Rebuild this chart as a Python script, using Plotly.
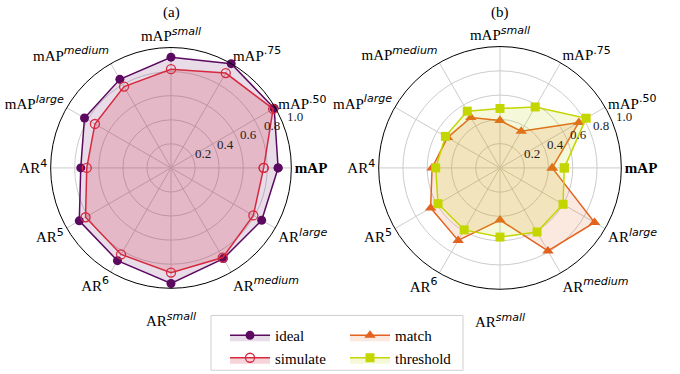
import math
import plotly.graph_objects as go

SANS = "DejaVu Sans"
SERIF = "Liberation Serif"

def sup(s, italic=False):
    inner = f"<i>{s}</i>" if italic else s
    return f"<sup><span style='font-family:{SANS};font-size:11px'>{inner}</span></sup>"

categories = [
    "<b>mAP</b>",
    "mAP" + sup(".50"),
    "mAP" + sup(".75"),
    "mAP" + sup("small", True),
    "mAP" + sup("medium", True),
    "mAP" + sup("large", True),
    "AR" + sup("4"),
    "AR" + sup("5"),
    "AR" + sup("6"),
    "<br>AR" + sup("small", True),
    "AR" + sup("medium", True),
    "AR" + sup("large", True),
]

ideal = [0.89, 0.99, 1.00, 0.92, 0.85, 0.83, 0.75, 0.88, 0.89, 0.96, 0.87, 0.87]
simulate = [0.77, 0.98, 0.91, 0.82, 0.78, 0.73, 0.70, 0.82, 0.83, 0.87, 0.86, 0.79]
match = [0.43, 0.75, 0.35, 0.39, 0.48, 0.50, 0.56, 0.66, 0.69, 0.43, 0.79, 0.90]
threshold = [0.53, 0.82, 0.58, 0.49, 0.54, 0.52, 0.53, 0.59, 0.59, 0.57, 0.61, 0.60]

radial_ticks = [0.2, 0.4, 0.6, 0.8, 1.0]
radial_max = 1.0
label_angle = 22.5

def closed(v):
    return list(v) + [v[0]]

theta = closed(categories)

fig = go.Figure()

series = [
    ("ideal", ideal, "polar", "#5c0a60", "rgba(100,20,100,0.15)",
     dict(symbol="circle", size=9, color="#5c0a60"), "legend", 1),
    ("simulate", simulate, "polar", "#d6293f", "rgba(214,41,63,0.2)",
     dict(symbol="circle-open", size=9, color="#d6293f", line=dict(width=1.3)), "legend", 2),
    ("match", match, "polar2", "#e4621f", "rgba(228,98,31,0.15)",
     dict(symbol="triangle-up", size=10, color="#e4621f"), "legend2", 3),
    ("threshold", threshold, "polar2", "#c4d600", "rgba(196,214,0,0.15)",
     dict(symbol="square", size=9, color="#c4d600"), "legend2", 4),
]

for name, vals, sub, col, fillc, mk, leg, rank in series:
    fig.add_trace(go.Scatterpolar(
        r=closed(vals), theta=theta, subplot=sub, name=name,
        mode="lines+markers", fill="toself", fillcolor=fillc,
        line=dict(color=col, width=1.5), marker=mk,
        legend=leg, legendrank=rank,
    ))

W, H = 680, 374
panels = [("polar", 171, 173, 124, "(a)"), ("polar2", 500, 173, 125, "(b)")]

def polar_layout(cx, cy, rad):
    return dict(
        domain=dict(x=[(cx - rad) / W, (cx + rad) / W],
                    y=[(H - cy - rad) / H, (H - cy + rad) / H]),
        bgcolor="white",
        radialaxis=dict(range=[0, radial_max], tickvals=radial_ticks,
                        showticklabels=False, angle=label_angle,
                        showline=False, ticks="",
                        gridcolor="#cccccc", gridwidth=1),
        angularaxis=dict(categoryorder="array", categoryarray=categories,
                         direction="counterclockwise", rotation=0,
                         showline=True, linecolor="black", linewidth=1,
                         gridcolor="#cccccc", gridwidth=1, ticks="",
                         tickfont=dict(family=SERIF, size=15, color="black")),
    )

annotations = []
layout_polars = {}
for key, cx, cy, rad, title in panels:
    layout_polars[key] = polar_layout(cx, cy, rad)
    annotations.append(dict(
        text=title, x=cx / W, y=(H - 13) / H, xref="paper", yref="paper",
        xanchor="center", yanchor="middle", showarrow=False,
        font=dict(family=SERIF, size=15, color="black")))
    # radial tick labels, matplotlib-style, beside the 22.5 degree direction
    a = math.radians(label_angle)
    for t in radial_ticks:
        px = cx + rad * t / radial_max * math.cos(a) + 9
        py = cy - rad * t / radial_max * math.sin(a) - 5.5
        annotations.append(dict(
            text=f"{t:.1f}", x=px / W, y=(H - py) / H, xref="paper", yref="paper",
            xanchor="center", yanchor="middle", showarrow=False,
            font=dict(family=SERIF, size=13, color="#222")))

fig.update_layout(
    width=W, height=H,
    margin=dict(l=0, r=0, t=0, b=0),
    paper_bgcolor="white",
    showlegend=True,
    legend=dict(x=225 / W, y=(H - 329) / H, xanchor="left", yanchor="top",
                bgcolor="rgba(0,0,0,0)", borderwidth=0,
                font=dict(family=SERIF, size=15, color="black"),
                tracegroupgap=0, itemwidth=40),
    legend2=dict(x=345 / W, y=(H - 329) / H, xanchor="left", yanchor="top",
                 bgcolor="rgba(0,0,0,0)", borderwidth=0,
                 font=dict(family=SERIF, size=15, color="black"),
                 tracegroupgap=0, itemwidth=40),
    shapes=[dict(type="rect", xref="paper", yref="paper",
                 x0=211 / W, x1=463 / W, y0=-0.02, y1=(H - 325) / H,
                 line=dict(color="#cfcfcf", width=1), fillcolor="white",
                 layer="below")],
    annotations=annotations,
    **layout_polars,
)

fig.write_html("out.html")
